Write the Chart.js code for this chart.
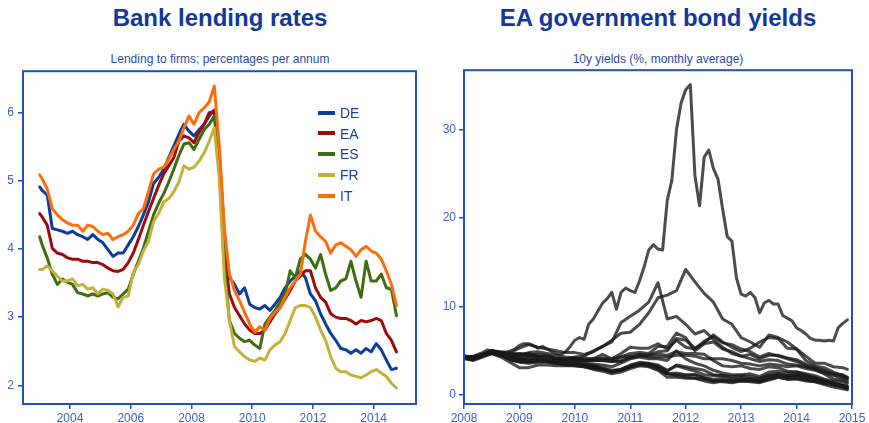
<!DOCTYPE html>
<html><head><meta charset="utf-8">
<script src="https://cdn.jsdelivr.net/npm/chart.js@4.4.1/dist/chart.umd.min.js"></script>
<style>
html,body{margin:0;padding:0;background:#fff;width:869px;height:423px;overflow:hidden;font-family:"Liberation Sans",Arial,sans-serif;}
.t{position:absolute;font-weight:bold;font-size:24px;line-height:24px;color:#12389a;white-space:nowrap;transform:translateX(-50%);}
.s{position:absolute;font-size:12px;line-height:12px;color:#2a4aa8;white-space:nowrap;transform:translateX(-50%);}
canvas{position:absolute;}
.sw{position:absolute;width:17px;height:4px;}
.lt{position:absolute;font-size:14px;line-height:14px;color:#1a3ea8;white-space:nowrap;}
</style></head><body>
<div class="t" style="left:220px;top:6px">Bank lending rates</div>
<div class="s" style="left:220px;top:53px">Lending to firms; percentages per annum</div>
<div class="t" style="left:658px;top:6px">EA government bond yields</div>
<div class="s" style="left:658px;top:53px">10y yields (%, monthly average)</div>
<canvas id="c1" width="432" height="363" style="left:0;top:60px"></canvas>
<canvas id="c2" width="434" height="363" style="left:435px;top:60px"></canvas>
<div id="legend"></div>
<script>
// ---------- Bank lending rates (left) ----------
const lendingDates = ['2003-01','2003-02','2003-04','2003-06','2003-08','2003-10','2003-12',
'2004-02','2004-04','2004-06','2004-08','2004-10','2004-12',
'2005-02','2005-04','2005-06','2005-08','2005-10','2005-12',
'2006-02','2006-04','2006-06','2006-08','2006-10','2006-12',
'2007-02','2007-04','2007-06','2007-08','2007-10','2007-12',
'2008-02','2008-04','2008-06','2008-08','2008-10','2008-12',
'2009-02','2009-04','2009-06','2009-08','2009-10','2009-12',
'2010-02','2010-04','2010-06','2010-08','2010-10','2010-12',
'2011-02','2011-04','2011-06','2011-08','2011-10','2011-12',
'2012-02','2012-04','2012-06','2012-08','2012-10','2012-12',
'2013-02','2013-04','2013-06','2013-08','2013-10','2013-12',
'2014-02','2014-04','2014-06','2014-08','2014-10'];
const lendingNames = ['DE','EA','ES','FR','IT'];
const lendingDE = [4.91,4.86,4.79,4.30,4.28,4.26,4.23, 4.26,4.21,4.18,4.14,4.21,4.14, 4.09,3.99,3.89,3.94,3.94,4.06, 4.18,4.33,4.50,4.69,4.96,5.05, 5.17,5.34,5.51,5.68,5.83,5.73, 5.66,5.75,5.83,5.95,6.04,5.42, 4.21,3.58,3.48,3.34,3.43,3.19, 3.14,3.12,3.17,3.10,3.19,3.29, 3.43,3.53,3.60,3.68,3.58,3.34, 3.24,3.05,2.90,2.76,2.66,2.54, 2.52,2.47,2.52,2.47,2.54,2.49, 2.61,2.52,2.37,2.23,2.25];
const lendingEA = [4.52,4.47,4.35,4.01,3.94,3.92,3.87, 3.85,3.85,3.82,3.82,3.80,3.80, 3.77,3.72,3.68,3.67,3.70,3.80, 3.94,4.14,4.35,4.55,4.74,4.93, 5.10,5.22,5.34,5.58,5.66,5.63, 5.56,5.71,5.83,6.00,6.02,5.27, 3.92,3.34,3.14,3.02,2.90,2.81, 2.76,2.76,2.81,2.93,3.05,3.14, 3.27,3.39,3.53,3.60,3.68,3.68, 3.43,3.29,3.22,3.05,3.00,2.98, 2.98,2.95,2.90,2.95,2.93,2.95, 2.98,2.95,2.76,2.66,2.49];
const lendingES = [4.18,4.06,3.87,3.63,3.48,3.56,3.51, 3.48,3.36,3.34,3.31,3.34,3.31, 3.34,3.36,3.29,3.27,3.34,3.41, 3.63,3.82,4.01,4.26,4.50,4.67, 4.81,4.98,5.17,5.37,5.54,5.56, 5.46,5.61,5.75,5.83,5.95,5.17, 3.77,2.95,2.76,2.69,2.64,2.66, 2.59,2.54,2.90,3.00,3.10,3.22, 3.34,3.68,3.58,3.85,3.92,3.85, 3.72,3.92,3.63,3.39,3.43,3.53, 3.56,3.82,3.53,3.29,3.82,3.53, 3.53,3.63,3.43,3.41,3.02];
const lendingFR = [3.70,3.70,3.75,3.68,3.60,3.53,3.53, 3.56,3.46,3.48,3.41,3.43,3.34, 3.41,3.39,3.34,3.15,3.29,3.31, 3.65,3.77,3.97,4.11,4.40,4.52, 4.69,4.74,4.84,4.98,5.22,5.17, 5.20,5.29,5.41,5.58,5.78,5.03, 3.58,2.95,2.57,2.49,2.42,2.37, 2.35,2.40,2.37,2.52,2.59,2.64, 2.76,2.95,3.14,3.17,3.17,3.14, 3.00,2.81,2.66,2.42,2.25,2.20, 2.20,2.15,2.13,2.11,2.15,2.20, 2.23,2.18,2.13,2.03,1.96];
const lendingIT = [5.09,5.03,4.88,4.59,4.50,4.43,4.38, 4.35,4.35,4.26,4.35,4.33,4.26, 4.21,4.23,4.14,4.18,4.21,4.26, 4.35,4.52,4.59,4.84,5.10,5.17, 5.20,5.32,5.46,5.58,5.78,5.95, 5.83,6.00,6.07,6.16,6.39,5.51, 4.30,3.63,3.39,3.24,3.07,2.90, 2.78,2.86,2.81,2.98,3.07,3.14, 3.29,3.43,3.53,3.63,4.11,4.50, 4.26,4.18,4.11,3.94,4.06,4.09, 4.04,3.99,3.89,3.99,4.04,3.97, 3.94,3.85,3.68,3.48,3.17];
const lendingXTicks = [2004,2006,2008,2010,2012,2014];
const lendingYTicks = [2,3,4,5,6];

// ---------- Government bond yields (right) ----------
const bondDates = ['2008-01','2008-03','2008-05','2008-07','2008-09','2008-11',
'2009-01','2009-03','2009-05','2009-07','2009-09','2009-11',
'2010-01','2010-03','2010-05','2010-07','2010-09','2010-11',
'2011-01','2011-03','2011-05','2011-07','2011-09','2011-11',
'2012-01','2012-03','2012-05','2012-07','2012-09','2012-11',
'2013-01','2013-03','2013-05','2013-07','2013-09','2013-11',
'2014-01','2014-03','2014-05','2014-07','2014-09','2014-11','2014-12'];
const bondDE = [4.2,4.0,4.4,4.7,4.3,3.7, 3.1,3.1,3.4,3.4,3.3,3.3, 3.3,3.2,2.9,2.7,2.4,2.6, 3.0,3.3,3.2,2.8,2.0,2.0, 1.9,1.9,1.6,1.4,1.6,1.5, 1.6,1.5,1.4,1.7,2.0,1.8, 1.9,1.7,1.5,1.3,1.1,0.9,0.7];
const bondNL = [4.3,4.1,4.5,4.8,4.5,4.0, 3.8,3.7,3.8,3.8,3.6,3.5, 3.5,3.4,3.2,2.9,2.6,2.8, 3.2,3.5,3.5,3.1,2.4,2.3, 2.2,2.3,2.0,1.8,1.9,1.7, 1.8,1.8,1.6,2.0,2.3,2.1, 2.2,2.0,1.8,1.5,1.3,1.0,0.9];
const bondFI = [4.3,4.1,4.5,4.8,4.5,4.0, 3.8,3.8,3.9,3.8,3.6,3.5, 3.5,3.3,3.1,2.9,2.6,2.8, 3.2,3.5,3.5,3.1,2.4,2.5, 2.3,2.3,1.9,1.6,1.7,1.6, 1.7,1.7,1.5,1.9,2.1,2.0, 2.0,1.8,1.6,1.4,1.2,1.0,0.9];
const bondAT = [4.3,4.1,4.5,4.9,4.6,4.3, 4.3,4.3,4.1,4.0,3.9,3.7, 3.7,3.5,3.4,3.1,2.8,2.9, 3.4,3.7,3.6,3.4,2.8,3.3, 3.0,2.7,2.3,2.2,2.2,1.9, 2.0,1.9,1.8,2.2,2.3,2.2, 2.3,2.0,1.8,1.6,1.3,1.1,0.9];
const bondFR = [4.2,4.0,4.4,4.8,4.5,4.0, 3.7,3.6,3.7,3.7,3.6,3.5, 3.5,3.4,3.2,3.0,2.7,2.9, 3.3,3.6,3.5,3.3,2.7,3.4, 3.2,3.0,2.8,2.3,2.2,2.1, 2.2,2.1,1.9,2.3,2.4,2.2, 2.3,2.2,1.9,1.6,1.3,1.1,0.9];
const bondBE = [4.3,4.2,4.6,4.9,4.7,4.4, 4.1,4.0,4.0,3.9,3.7,3.6, 3.8,3.6,3.5,3.4,3.2,3.6, 4.1,4.3,4.1,4.1,3.9,5.0, 4.1,3.6,3.3,2.8,2.5,2.3, 2.3,2.4,2.1,2.6,2.7,2.5, 2.6,2.3,2.0,1.7,1.4,1.1,1.0];
const bondLU = [4.1,3.9,4.3,4.7,4.4,4.2, 4.0,3.9,3.9,3.8,3.6,3.4, 3.3,3.2,3.0,2.9,2.6,2.9, 3.2,3.4,3.3,2.9,2.4,2.2, 2.0,1.9,1.8,1.6,1.5,1.4, 1.6,1.6,1.5,1.8,2.0,1.8, 1.8,1.6,1.5,1.2,0.9,0.7,0.6];
const bondSK = [4.4,4.3,4.6,4.9,4.7,4.5, 4.5,4.8,4.9,4.7,4.5,4.3, 4.2,4.0,3.9,3.9,3.8,3.8, 4.3,4.6,4.5,4.6,4.5,4.9, 4.7,4.7,4.6,3.9,3.3,3.2, 3.3,3.0,2.9,3.2,3.1,2.7, 2.6,2.4,2.2,1.8,1.6,1.5,1.3];
const bondMT = [4.3,4.2,4.6,5.0,4.8,4.6, 4.7,4.5,4.4,4.4,4.2,4.1, 4.2,4.2,4.1,4.2,4.1,4.3, 4.4,4.5,4.3,4.3,4.3,4.5, 4.5,4.4,4.1,4.1,4.1,3.9, 3.6,3.5,3.3,3.5,3.4,3.2, 3.3,3.0,2.8,2.5,2.2,1.9,1.7];
const bondSI = [4.4,4.3,4.6,4.9,4.7,4.6, 4.6,4.5,4.6,4.5,4.1,4.0, 4.0,3.9,3.9,3.9,3.8,3.9, 4.2,4.4,4.5,4.9,5.0,6.4, 6.2,5.3,5.9,6.8,6.0,5.4, 4.9,5.3,6.0,6.5,6.4,5.3, 5.2,3.9,3.3,3.1,2.6,2.2,2.0];
const bondES = [4.2,4.1,4.4,4.8,4.7,4.3, 4.1,4.1,4.1,4.0,3.9,3.8, 4.0,3.9,4.1,4.6,4.1,4.7, 5.4,5.3,5.3,5.8,5.2,6.2, 5.4,5.2,6.1,6.6,5.9,5.7, 5.2,4.9,4.3,4.7,4.4,4.1, 3.8,3.3,3.0,2.7,2.3,2.1,1.9];
const bondIT = [4.4,4.3,4.6,5.0,4.8,4.7, 4.5,4.5,4.4,4.4,4.1,4.1, 4.1,3.9,4.0,4.1,3.9,4.3, 4.7,4.8,4.7,5.5,5.5,7.0, 6.5,5.0,5.8,6.0,5.2,4.9, 4.4,4.6,4.1,4.5,4.5,4.2, 4.0,3.5,3.1,2.8,2.4,2.3,2.0];
const bondIE = [4.4,4.3,4.6,5.0,4.9,4.8, 5.3,5.7,5.4,5.2,5.0,4.8, 4.8,4.6,4.9,5.5,6.0,8.2, 8.9,9.6,10.5,12.7,8.6,8.9, 8.0,6.9,7.3,6.3,5.4,4.7, 4.4,4.1,3.8,4.0,3.9,3.5, 3.4,3.2,2.9,2.4,1.8,1.7,1.5];
const bondPT = [4.4,4.3,4.6,5.0,4.8,4.6, 4.6,4.7,4.4,4.2,4.1,4.0, 4.3,4.4,5.0,5.5,6.2,7.0, 7.1,8.0,9.3,11.0,11.3,11.8, 14.2,12.8,11.5,10.5,8.6,8.0, 6.5,6.0,5.4,6.8,6.5,6.0, 5.2,4.4,3.6,3.6,3.2,3.1,2.9];
const greeceDates = ['2008-01','2008-02','2008-03','2008-04','2008-05','2008-06','2008-07','2008-08','2008-09','2008-10','2008-11','2008-12',
'2009-01','2009-02','2009-03','2009-04','2009-05','2009-06','2009-07','2009-08','2009-09','2009-10','2009-11','2009-12',
'2010-01','2010-02','2010-03','2010-04','2010-05','2010-06','2010-07','2010-08','2010-09','2010-10','2010-11','2010-12',
'2011-01','2011-02','2011-03','2011-04','2011-05','2011-06','2011-07','2011-08','2011-09','2011-10','2011-11','2011-12',
'2012-01','2012-02','2012-03','2012-04','2012-05','2012-06','2012-07','2012-08','2012-09','2012-10','2012-11','2012-12',
'2013-01','2013-02','2013-03','2013-04','2013-05','2013-06','2013-07','2013-08','2013-09','2013-10','2013-11','2013-12',
'2014-01','2014-02','2014-03','2014-04','2014-05','2014-06','2014-07','2014-08','2014-09','2014-10','2014-11','2014-12'];
const bondGR = [4.3,4.3,4.4,4.6,4.8,5.1,5.0,4.8,4.8,4.8,5.0,5.2,
5.6,5.8,5.8,5.6,5.3,5.5,5.2,4.9,4.7,4.6,4.9,5.5,
6.2,6.5,6.3,8.0,8.6,9.5,10.4,10.9,11.6,9.7,11.6,12.1,
11.8,11.6,12.9,14.5,16.4,17.0,16.5,16.4,22.0,24.3,30.0,33.0,
34.5,35.1,24.8,21.4,26.9,27.7,25.6,24.4,21.0,17.9,17.4,13.2,
11.4,11.2,11.6,11.0,9.3,10.4,10.7,10.3,10.3,9.0,8.7,8.4,
7.6,7.3,6.9,6.4,6.2,6.2,6.1,6.2,6.1,7.6,8.1,8.5];
const bondXTicks = [2008,2009,2010,2011,2012,2013,2014,2015];
const bondYTicks = [0,10,20,30];

// ---------- styling ----------
const lendingColors = ['#0c3c9c','#9e0b0b','#3e6e12','#c3b13c','#ff6c0c'];
const axisColor = '#2150c0';
const tickColor = '#4062c6';
const bondColor = 'rgba(25,25,25,0.78)';

Chart.defaults.font.family = "'Liberation Sans', Arial, sans-serif";
Chart.defaults.font.size = 12;

function toYear(s){ const p = s.split('-'); return +p[0] + (+p[1]-1)/12; }
function pts(dates, vals){ return vals.map((v,i)=>({x: toYear(dates[i]), y: v})); }

const boxPlugin = {
  id:'box',
  afterDraw(chart){
    const a = chart.chartArea, ctx = chart.ctx;
    ctx.save();
    ctx.strokeStyle = axisColor; ctx.lineWidth = 2;
    ctx.strokeRect(a.left, a.top, a.right - a.left, a.bottom - a.top);
    ctx.restore();
  }
};

function axisX(min, max, ticks){
  return {type:'linear', min:min, max:max,
    afterBuildTicks: s => { s.ticks = ticks.map(v => ({value:v})); },
    afterFit: s => { s.height = 19; },
    grid:{display:true, drawOnChartArea:false, drawTicks:true, tickLength:5, color:axisColor, lineWidth:1.5},
    border:{display:false},
    ticks:{padding:2, color:tickColor, maxRotation:0, autoSkip:false, callback: v => String(v)}};
}
function axisY(min, max, ticks, width, pad){
  return {type:'linear', min:min, max:max,
    afterBuildTicks: s => { s.ticks = ticks.map(v => ({value:v})); },
    afterFit: s => { s.width = width; },
    grid:{display:true, drawOnChartArea:false, drawTicks:true, tickLength:5, color:axisColor, lineWidth:1.5},
    border:{display:false},
    ticks:{padding:pad, color:tickColor, autoSkip:false, callback: v => String(v)}};
}
const common = {responsive:false, animation:false, devicePixelRatio:1,
  plugins:{legend:{display:false}, tooltip:{enabled:false}, title:{display:false}},
  elements:{point:{radius:0}, line:{tension:0, borderJoinStyle:'round', borderCapStyle:'round'}}};

const lendingSeries = [lendingDE, lendingEA, lendingES, lendingFR, lendingIT];
new Chart(document.getElementById('c1'), {
  type:'line',
  data:{datasets: lendingSeries.map((vals,i)=>({label:lendingNames[i], data:pts(lendingDates, vals),
    borderColor:lendingColors[i], borderWidth:3, order: lendingSeries.length - i, fill:false}))},
  options:Object.assign({}, common, {
    layout:{padding:{top:7, right:16, left:0, bottom:0}},
    scales:{x:axisX(2002.452, 2015.393, lendingXTicks), y:axisY(1.725, 6.609, lendingYTicks, 23, 4)}
  }),
  plugins:[boxPlugin]
});

const bondSeries = [bondDE,bondNL,bondFI,bondAT,bondFR,bondBE,bondLU,bondSK,bondMT,bondSI,bondES,bondIT,bondIE,bondPT];
const bondSets = bondSeries.map(vals=>({data:pts(bondDates, vals), borderColor:bondColor, borderWidth:3, fill:false}));
bondSets.push({data:pts(greeceDates, bondGR), borderColor:bondColor, borderWidth:3, fill:false});
new Chart(document.getElementById('c2'), {
  type:'line',
  data:{datasets: bondSets},
  options:Object.assign({}, common, {
    layout:{padding:{top:7, right:17, left:0, bottom:0}},
    scales:{x:axisX(2008, 2015, bondXTicks), y:axisY(-1.01, 36.72, bondYTicks, 29, 3)}
  }),
  plugins:[boxPlugin]
});

// legend (inside left chart)
const lg = document.getElementById('legend');
lendingNames.forEach((n,i)=>{
  const cy = 112.7 + 20.75*i;
  const sw = document.createElement('div'); sw.className='sw';
  sw.style.left='318px'; sw.style.top=(cy-2)+'px'; sw.style.background=lendingColors[i];
  const t = document.createElement('div'); t.className='lt'; t.textContent=n;
  t.style.left='340px'; t.style.top=(cy-6.9)+'px';
  lg.appendChild(sw); lg.appendChild(t);
});
</script>
</body></html>
